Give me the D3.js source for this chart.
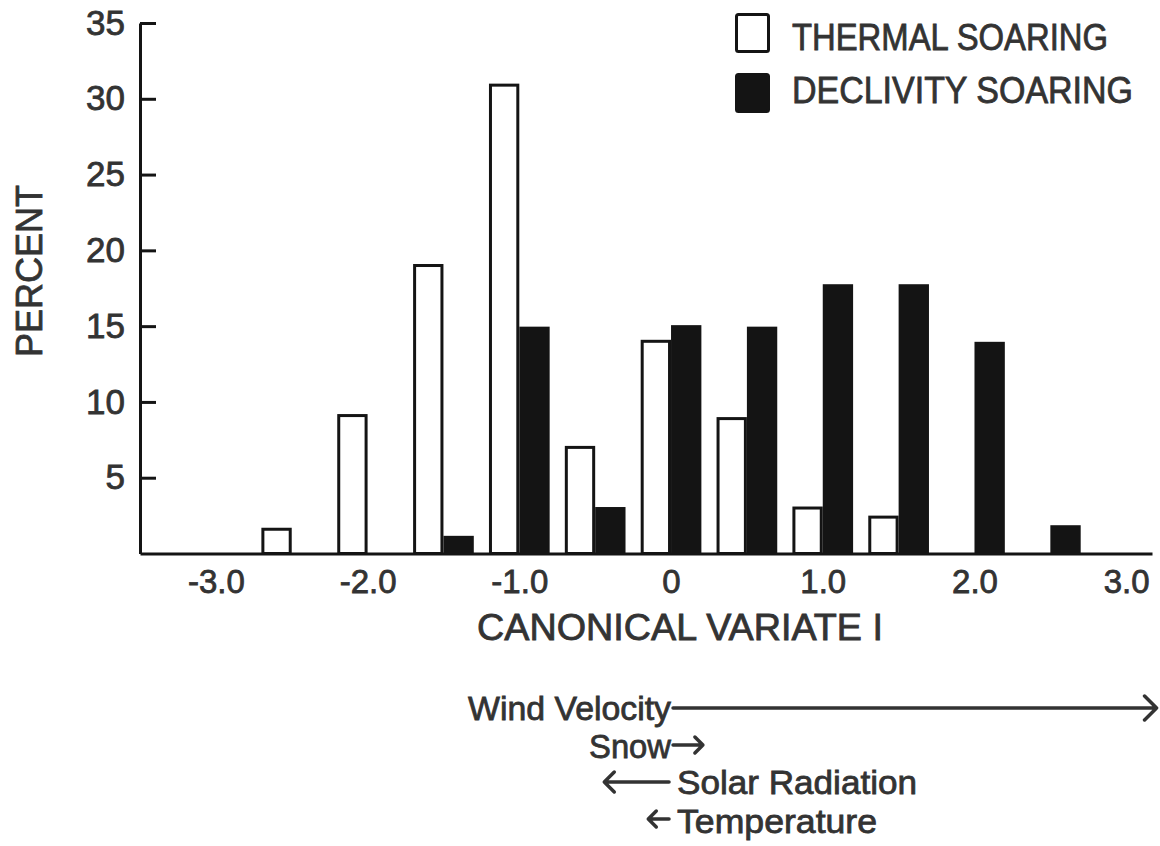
<!DOCTYPE html>
<html>
<head>
<meta charset="utf-8">
<script src="https://cdn.jsdelivr.net/npm/d3@7"></script>
<style>
  body { margin: 0; background: #fff; }
  svg { display: block; }
</style>
</head>
<body>
<svg id="chart"></svg>
<script>
// class midpoints of canonical variate I (each pair of bars meets here)
const classMids = [-2.5, -2.0, -1.5, -1.0, -0.5, 0, 0.5, 1.0, 1.5, 2.0, 2.5];
const thermal = [1.6, 9.1, 19.0, 30.9, 7.0, 14.0, 8.9, 3.0, 2.4, 0, 0];
const declivity = [0, 0, 1.1, 14.9, 3.0, 15.0, 14.9, 17.7, 17.7, 13.9, 1.8];

const yTicks = [5, 10, 15, 20, 25, 30, 35];
const xTicks = [-3, -2, -1, 0, 1, 2, 3];
const xTickLabels = ['-3.0', '-2.0', '-1.0', '0', '1.0', '2.0', '3.0'];

const seriesNames = ['THERMAL SOARING', 'DECLIVITY SOARING'];

// correlation arrows drawn from the origin of variate I
const arrowNames = ['Wind Velocity', 'Snow', 'Solar Radiation', 'Temperature'];
const arrowEnds = [3.2, 0.21, -0.44, -0.15];

const width = 1160;
const height = 846;
const ink = '#141414';
const textInk = '#333';
const font = "'Liberation Sans', Arial, sans-serif";

const svg = d3.select('#chart').attr('width', width).attr('height', height);

const x = d3.scaleLinear().domain([-3.5, 3.17]).range([140, 1152]);
const y = d3.scaleLinear().domain([0, 35]).range([553.5, 23]);
const barW = x(0.2) - x(0);

const chart = svg.append('g').attr('font-family', font);

// slightly heavier lettering, like the hand-stenciled original
const heavy = (sel) => sel.attr('stroke', textInk).attr('stroke-width', 0.8);

// bars
const rows = classMids.map((c, i) => ({ c, t: thermal[i], d: declivity[i] }));

chart
  .append('g')
  .selectAll('rect')
  .data(rows.filter((r) => r.t > 0))
  .join('rect')
  .attr('x', (r) => x(r.c) - barW + 1.5)
  .attr('y', (r) => y(r.t))
  .attr('width', barW - 3)
  .attr('height', (r) => y(0) - y(r.t))
  .attr('fill', '#fff')
  .attr('stroke', ink)
  .attr('stroke-width', 3);

chart
  .append('g')
  .selectAll('rect')
  .data(rows.filter((r) => r.d > 0))
  .join('rect')
  .attr('x', (r) => x(r.c))
  .attr('y', (r) => y(r.d) - 1)
  .attr('width', barW)
  .attr('height', (r) => y(0) - y(r.d) + 1)
  .attr('fill', ink);

// y axis, ticks point inward, labels outside
const yAxis = chart
  .append('g')
  .attr('transform', `translate(${x(-3.5)},0)`)
  .call(d3.axisLeft(y).tickValues(yTicks).tickSize(-16).tickSizeOuter(0).tickPadding(15));

yAxis.select('.domain').attr('stroke', ink).attr('stroke-width', 3);
yAxis.selectAll('.tick line').attr('stroke', ink).attr('stroke-width', 3);
yAxis
  .selectAll('.tick text')
  .attr('font-size', 35)
  .attr('font-family', font)
  .attr('fill', textInk)
  .call(heavy);

// x axis: no tick marks
const xAxis = chart
  .append('g')
  .attr('transform', `translate(0,${y(0)})`)
  .call(
    d3
      .axisBottom(x)
      .tickValues(xTicks)
      .tickSize(0)
      .tickPadding(16)
      .tickFormat((d, i) => xTickLabels[i])
  );

xAxis.select('.domain').attr('stroke', ink).attr('stroke-width', 3);
xAxis
  .selectAll('.tick text')
  .attr('font-size', 33)
  .attr('font-family', font)
  .attr('fill', textInk)
  .call(heavy);

// axis titles
chart
  .append('text')
  .attr('x', 477)
  .attr('y', 640)
  .attr('font-size', 36)
  .attr('fill', textInk)
  .attr('textLength', 406)
  .attr('lengthAdjust', 'spacingAndGlyphs')
  .call(heavy)
  .text('CANONICAL VARIATE I');

chart
  .append('text')
  .attr('transform', 'translate(42,271) rotate(-90)')
  .attr('text-anchor', 'middle')
  .attr('font-size', 36)
  .attr('fill', textInk)
  .attr('textLength', 172)
  .attr('lengthAdjust', 'spacingAndGlyphs')
  .call(heavy)
  .text('PERCENT');

// legend
const legend = chart.append('g').attr('class', 'legend');
const legendRows = [
  { y: 13, fill: '#fff', textW: 316, base: 50 },
  { y: 73, fill: ink, textW: 341, base: 103 }
];

legend
  .selectAll('rect')
  .data(legendRows)
  .join('rect')
  .attr('x', 736.5)
  .attr('y', (d) => d.y + 1.5)
  .attr('width', 32)
  .attr('height', 37)
  .attr('rx', 2)
  .attr('fill', (d) => d.fill)
  .attr('stroke', ink)
  .attr('stroke-width', 3);

legend
  .selectAll('text')
  .data(legendRows)
  .join('text')
  .attr('x', 792)
  .attr('y', (d) => d.base)
  .attr('font-size', 36)
  .attr('fill', textInk)
  .attr('textLength', (d) => d.textW)
  .attr('lengthAdjust', 'spacingAndGlyphs')
  .call(heavy)
  .text((d, i) => seriesNames[i]);

// variable arrows below the axis
const arrowRows = [
  { y: 708, base: 720, textW: 203, head: 12 },
  { y: 745, base: 758, textW: 82, head: 8 },
  { y: 782, base: 794, textW: 240, head: 10 },
  { y: 819, base: 833, textW: 200, head: 8 }
];

const arrows = chart.append('g').attr('class', 'arrows');

arrowNames.forEach((name, i) => {
  const r = arrowRows[i];
  const end = arrowEnds[i];
  const dir = end > 0 ? 1 : -1;
  const x0 = x(0) + dir * 2;
  const x1 = x(end);
  const h = r.head;

  arrows
    .append('path')
    .attr('d', `M${x0},${r.y}H${x1}M${x1 - dir * h},${r.y - h}L${x1},${r.y}L${x1 - dir * h},${r.y + h}`)
    .attr('fill', 'none')
    .attr('stroke', textInk)
    .attr('stroke-width', 3.5)
    .attr('stroke-linecap', 'round')
    .attr('stroke-linejoin', 'round');

  arrows
    .append('text')
    .attr('x', dir > 0 ? x(0) - r.textW : x(0) + 6)
    .attr('y', r.base)
    .attr('font-size', 34)
    .attr('fill', textInk)
    .attr('textLength', r.textW)
    .attr('lengthAdjust', 'spacingAndGlyphs')
    .call(heavy)
    .text(name);
});
</script>
</body>
</html>
